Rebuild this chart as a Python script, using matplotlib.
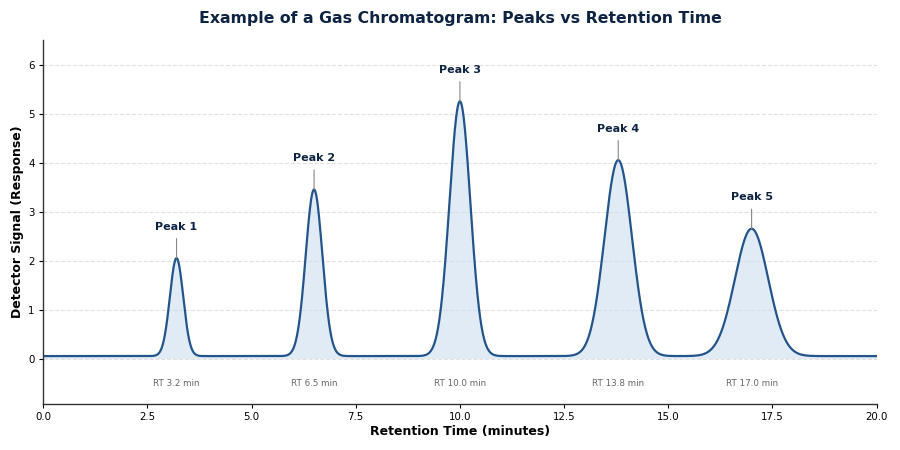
import numpy as np
import matplotlib
matplotlib.use("Agg")
import matplotlib.pyplot as plt

# Data
peak_names = ["Peak 1", "Peak 2", "Peak 3", "Peak 4", "Peak 5"]
retention_times = [3.2, 6.5, 10.0, 13.8, 17.0]
peak_heights = [2.0, 3.4, 5.2, 4.0, 2.6]
peak_widths = [0.16, 0.20, 0.25, 0.33, 0.40]
baseline_level = 0.05
x_ticks = [0.0, 2.5, 5.0, 7.5, 10.0, 12.5, 15.0, 17.5, 20.0]
y_ticks = [0, 1, 2, 3, 4, 5, 6]

t = np.linspace(0, 20, 2001)
signal = np.full_like(t, baseline_level)
for rt, h, w in zip(retention_times, peak_heights, peak_widths):
    signal += h * np.exp(-0.5 * ((t - rt) / w) ** 2)

fig = plt.figure(figsize=(9, 4.5), dpi=100)
ax = fig.add_axes([0.048, 0.102, 0.926, 0.809])

line_color = "#23548a"
navy = "#0d2342"
ax.fill_between(t, 0, signal, color="#c9dbef", alpha=0.55, lw=0)
ax.plot(t, signal, color=line_color, lw=1.6)

ax.set_xlim(0, 20)
ax.set_ylim(-0.93, 6.5)
ax.set_xticks(x_ticks)
ax.set_xticklabels([f"{v:.1f}" for v in x_ticks])
ax.set_yticks(y_ticks)
ax.tick_params(labelsize=7.4, length=3, pad=3)
ax.grid(axis="y", linestyle="--", color="#e2e2e2", lw=0.8)
ax.set_axisbelow(True)
for s in ["top", "right"]:
    ax.spines[s].set_visible(False)
for s in ["left", "bottom"]:
    ax.spines[s].set_color("#333333")
    ax.spines[s].set_linewidth(1.0)

for name, rt, h in zip(peak_names, retention_times, peak_heights):
    top = h + baseline_level
    ax.annotate(name, xy=(rt, top), xytext=(rt, top + 0.54),
                ha="center", va="bottom", fontsize=8, fontweight="bold",
                color=navy,
                arrowprops=dict(arrowstyle="-", color="#888888", lw=0.8,
                                shrinkA=3, shrinkB=0))
    ax.text(rt, -0.5, f"RT {rt:.1f} min", ha="center", va="center",
            fontsize=6.3, color="#666666")

ax.set_title("Example of a Gas Chromatogram: Peaks vs Retention Time",
             fontsize=11.3, fontweight="bold", color=navy, pad=12)
ax.set_xlabel("Retention Time (minutes)", fontsize=9, fontweight="bold",
              labelpad=2)
ax.set_ylabel("Detector Signal (Response)", fontsize=9, fontweight="bold",
              labelpad=3)

fig.savefig("out.png", dpi=100)
